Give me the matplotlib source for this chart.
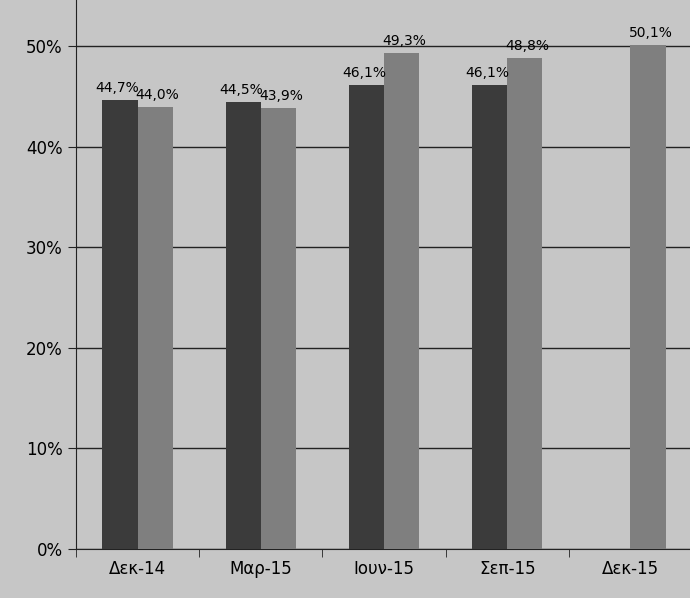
import numpy as np
import matplotlib.pyplot as plt

categories = ['Δεκ-14', 'Μαρ-15', 'Ιουν-15', 'Σεπ-15', 'Δεκ-15']
series_dark = [44.7, 44.5, 46.1, 46.1, None]
series_light = [44.0, 43.9, 49.3, 48.8, 50.1]

bg = '#c6c6c6'
fig = plt.figure(figsize=(6.9, 5.98), dpi=100, facecolor=bg)
ax = fig.add_axes([0.110, 0.082, 0.893, 0.918], facecolor=bg)

x = np.arange(len(categories))
w = 0.285
for i in x:
    if series_dark[i] is not None:
        ax.bar(i - w / 2, series_dark[i], w, color='#3b3b3b', zorder=3)
        ax.text(i - w / 2 - 0.02, series_dark[i] + 0.5, f'{series_dark[i]:.1f}%'.replace('.', ','),
                ha='center', va='bottom', fontsize=10, zorder=4)
    ax.bar(i + w / 2, series_light[i], w, color='#7f7f7f', zorder=3)
    ax.text(i + w / 2 + 0.02, series_light[i] + 0.5, f'{series_light[i]:.1f}%'.replace('.', ','),
            ha='center', va='bottom', fontsize=10, zorder=4)

ax.set_xlim(-0.5, len(categories) - 0.5)
ax.set_ylim(0, 54.6)
ax.set_yticks(range(0, 51, 10))
ax.set_yticklabels([f'{v}%' for v in range(0, 51, 10)], fontsize=12)
ax.yaxis.grid(True, color='#222222', linewidth=1, zorder=1)

ax.set_xticks(x)
ax.set_xticklabels(categories, fontsize=12)
ax.tick_params(axis='x', length=0, pad=8)
ax.set_xticks(np.arange(-0.5, len(categories), 1), minor=True)
ax.tick_params(axis='x', which='minor', length=6, color='#222222')
ax.tick_params(axis='y', length=6, color='#222222')

for s in ['top']:
    ax.spines[s].set_visible(False)
for s in ['left', 'bottom', 'right']:
    ax.spines[s].set_color('#222222')

fig.savefig('out.png', dpi=100, facecolor=bg)
